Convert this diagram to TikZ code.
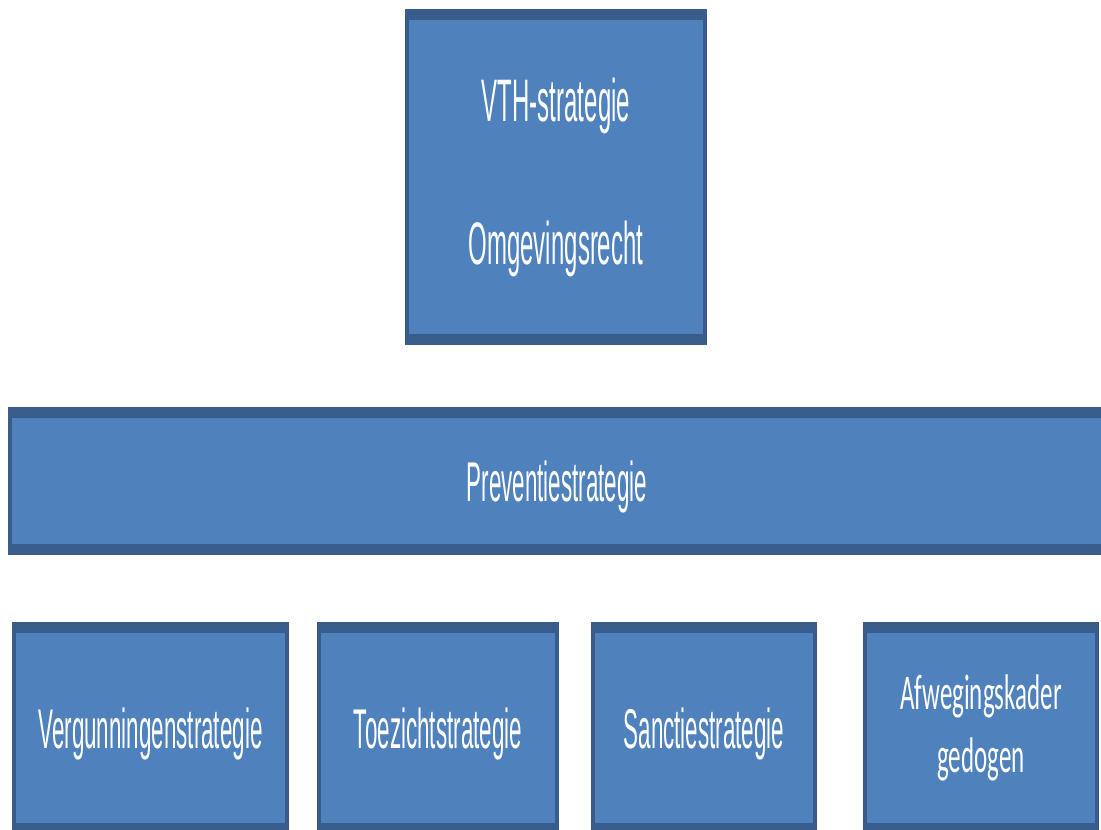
\documentclass[tikz,border=0pt]{standalone}
\usepackage{graphicx}
\usepackage{fontspec}
\setmainfont{Liberation Sans}
\newfontfamily\calfont{Carlito}

\definecolor{vthblauw}{HTML}{4F81BD}
\definecolor{vthrand}{HTML}{385D8A}

\newcommand{\smal}[1]{\scalebox{0.40}[1]{#1}}
\newcommand{\smalc}[1]{\scalebox{0.50}[1]{#1}}

\begin{document}
\begin{tikzpicture}[x=1pt, y=-1pt]
\tikzset{ inner sep=0pt, outer sep=0pt,
  blok/.style={rectangle, fill=vthrand, text=white, align=center,
    font=\fontsize{56}{63}\selectfont,
    path picture={\fill [vthblauw]
      ([xshift=4pt,yshift=-11pt]path picture bounding box.north west) rectangle
      ([xshift=-4pt,yshift=11pt]path picture bounding box.south east);}},
  regel/.style={text height=40pt, text depth=0pt},
}

\useasboundingbox (0,0) rectangle (1101,830);
%\draw [lightgray, dashed] (0,0) grid[step=100] (1101,830);

\node [blok, minimum width=302, minimum height=336, font=\fontsize{60}{143}\selectfont]
  (vth) at (556,177) {\smal{VTH-strategie}\\\smal{Omgevingsrecht}};

\node [blok, regel, minimum width=1098, minimum height=148] (prev) at (557,481) {\smal{Preventiestrategie}};

\node [blok, regel, minimum width=277, minimum height=212] (verg) at (150.5,728) {\smal{Vergunningenstrategie}};
\node [blok, regel, minimum width=242, minimum height=212] (toez) at (438,728) {\smal{Toezichtstrategie}};
\node [blok, regel, minimum width=226, minimum height=212] (sanc) at (704,728) {\smal{Sanctiestrategie}};
\node [blok, minimum width=236, minimum height=212, font=\calfont\fontsize{50}{63}\selectfont]
  (afw) at (981,728) {\smalc{Afwegingskader}\\\smalc{gedogen}};

\end{tikzpicture}
\end{document}
